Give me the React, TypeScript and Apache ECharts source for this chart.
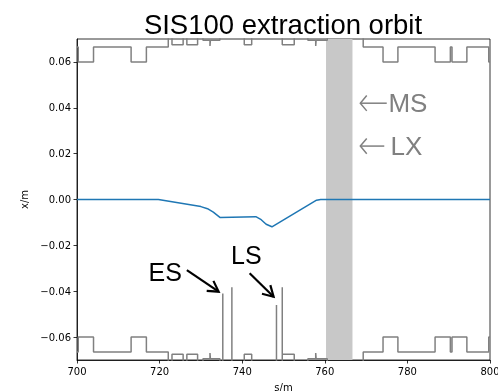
import React, { useEffect, useRef } from "react";
import * as echarts from "echarts";

// Beam orbit (blue)
const orbitS = [700, 719.7, 730.0, 731.6, 733.0, 734.6, 743.3, 744.6, 745.8, 747.2, 758.0, 759.0, 800];
const orbitX = [0, 0, -0.0031, -0.0040, -0.0055, -0.0078, -0.0075, -0.0088, -0.0108, -0.0119, -0.0003, 0, 0];

// Aperture, bottom wall (incl. ES / LS septum blades)
const bottomS = [700, 700.3, 700.3, 704.0, 704.0, 713.1, 713.1, 716.8, 716.8, 722.1, 722.1, 723.0, 723.0, 725.7, 725.7, 726.6, 726.6, 729.2, 729.2, 730.5, 730.5, 732.2, 732.2, 732.3, 732.3, 734.6, 734.6, 735.3, 735.3, 735.3, 737.5, 737.5, 737.5, 740.5, 740.5, 742.3, 742.3, 748.3, 748.3, 748.3, 749.7, 749.7, 749.7, 752.6, 752.6, 755.9, 755.9, 757.8, 757.8, 757.9, 757.9, 760.6, 760.6, 769.3, 769.3, 774.1, 774.1, 777.7, 777.7, 786.7, 786.7, 790.4, 790.4, 790.8, 790.8, 794.4, 794.4, 799.7, 799.7, 800];
const bottomX = [-0.0665, -0.0665, -0.06, -0.06, -0.0665, -0.0665, -0.06, -0.06, -0.0665, -0.0665, -0.072, -0.072, -0.0675, -0.0675, -0.072, -0.072, -0.0675, -0.0675, -0.072, -0.072, -0.0695, -0.0695, -0.067, -0.067, -0.0695, -0.0695, -0.072, -0.072, -0.041, -0.072, -0.072, -0.0383, -0.072, -0.072, -0.0675, -0.0675, -0.072, -0.072, -0.046, -0.072, -0.072, -0.0383, -0.0675, -0.0675, -0.072, -0.072, -0.0695, -0.0695, -0.067, -0.067, -0.0695, -0.0695, -0.072, -0.072, -0.0665, -0.0665, -0.06, -0.06, -0.0665, -0.0665, -0.06, -0.06, -0.0665, -0.0665, -0.06, -0.06, -0.0665, -0.0665, -0.06, -0.06];

// Aperture, top wall
const topS = [700, 700.3, 700.3, 704.0, 704.0, 713.1, 713.1, 716.8, 716.8, 722.1, 722.1, 723.0, 723.0, 725.7, 725.7, 726.6, 726.6, 729.2, 729.2, 730.5, 730.5, 732.2, 732.2, 732.3, 732.3, 734.6, 734.6, 740.5, 740.5, 742.3, 742.3, 749.7, 749.7, 752.6, 752.6, 755.9, 755.9, 757.8, 757.8, 757.9, 757.9, 760.6, 760.6, 769.3, 769.3, 774.1, 774.1, 777.7, 777.7, 786.7, 786.7, 790.4, 790.4, 790.8, 790.8, 794.4, 794.4, 799.7, 799.7, 800];
const topX = [0.0665, 0.0665, 0.06, 0.06, 0.0665, 0.0665, 0.06, 0.06, 0.0665, 0.0665, 0.072, 0.072, 0.0675, 0.0675, 0.072, 0.072, 0.0675, 0.0675, 0.072, 0.072, 0.0695, 0.0695, 0.067, 0.067, 0.0695, 0.0695, 0.072, 0.072, 0.0675, 0.0675, 0.072, 0.072, 0.0675, 0.0675, 0.072, 0.072, 0.0695, 0.0695, 0.067, 0.067, 0.0695, 0.0695, 0.072, 0.072, 0.0665, 0.0665, 0.06, 0.06, 0.0665, 0.0665, 0.06, 0.06, 0.0665, 0.0665, 0.06, 0.06, 0.0665, 0.0665, 0.06, 0.06];

// Shaded element (s range)
const bandS = [760.3, 766.7];

// Axis ticks
const xTicks = [700, 720, 740, 760, 780, 800];
const yTicks = [-0.06, -0.04, -0.02, 0, 0.02, 0.04, 0.06];

// Annotations (data coordinates)
const blackLabels = ["ES", "LS"];
const blackLabelPos = [[725.4, -0.0316], [737.3, -0.0242]];
const blackLabelAlign = ["right", "left"];
const blackArrows = [[726.6, -0.0308, 734.3, -0.0402], [741.8, -0.0322, 747.6, -0.0424]];
const grayLabels = ["MS", "LX"];
const grayLabelPos = [[775.4, 0.042], [775.9, 0.0233]];
const grayArrows = [[775.0, 0.042, 768.6, 0.042], [774.4, 0.0233, 768.6, 0.0233]];

const zip = (a: number[], b: number[]) => a.map((v, i) => [v, b[i]]);
const fmtY = (v: number) => (Math.abs(v) < 1e-9 ? 0 : v).toFixed(2).replace("-", "\u2212");

function arrowItem(color: string, width: number, headLen: number, headAngle: number) {
  return (params: any, api: any) => {
    const p0 = api.coord([api.value(0), api.value(1)]);
    const p1 = api.coord([api.value(2), api.value(3)]);
    const ang = Math.atan2(p1[1] - p0[1], p1[0] - p0[0]);
    const a1 = ang + Math.PI - headAngle;
    const a2 = ang + Math.PI + headAngle;
    const h1 = [p1[0] + headLen * Math.cos(a1), p1[1] + headLen * Math.sin(a1)];
    const h2 = [p1[0] + headLen * Math.cos(a2), p1[1] + headLen * Math.sin(a2)];
    return {
      type: "group",
      children: [
        { type: "line", shape: { x1: p0[0], y1: p0[1], x2: p1[0], y2: p1[1] }, style: { stroke: color, lineWidth: width } },
        { type: "polyline", shape: { points: [h1, p1, h2] }, style: { stroke: color, lineWidth: width, fill: null, lineJoin: "miter" } },
      ],
    };
  };
}

function labelItem(labels: string[], aligns: string[] | null, color: string, size: number) {
  return (params: any, api: any) => {
    const p = api.coord([api.value(0), api.value(1)]);
    return {
      type: "text",
      x: p[0],
      y: p[1],
      style: {
        text: labels[params.dataIndex],
        fill: color,
        fontSize: size,
        fontFamily: "Liberation Sans, Arial, sans-serif",
        align: aligns ? aligns[params.dataIndex] : "left",
        verticalAlign: "middle",
      },
    };
  };
}

export default function App() {
  const ref = useRef<HTMLDivElement>(null);
  useEffect(() => {
    if (!ref.current) return;
    const chart = echarts.init(ref.current, null, { renderer: "svg" });
    const tickFont = { fontFamily: "DejaVu Sans", fontSize: 10, color: "#000" };
    chart.setOption({
      animation: false,
      title: {
        text: "SIS100 extraction orbit",
        left: 278,
        textAlign: "center",
        top: 5,
        textStyle: { fontFamily: "Liberation Sans, Arial, sans-serif", fontSize: 27.5, fontWeight: "normal", color: "#000" },
      },
      grid: {
        left: 77,
        right: 8,
        top: 39,
        bottom: 31,
        show: true,
        borderColor: "#000",
        borderWidth: 0.8,
        containLabel: false,
        outerBoundsMode: "none",
      },
      xAxis: {
        type: "value",
        min: 700,
        max: 800,
        interval: 20,
        name: "s/m",
        nameLocation: "middle",
        nameGap: 22,
        nameTextStyle: { fontFamily: "DejaVu Sans", fontSize: 10, color: "#000" },
        axisLine: { show: true, onZero: false, lineStyle: { color: "#000", width: 0.8 } },
        axisTick: { show: true, length: 3.5, lineStyle: { color: "#000", width: 0.8 } },
        axisLabel: { ...tickFont, margin: 6, customValues: xTicks },
        splitLine: { show: false },
      },
      yAxis: {
        type: "value",
        min: -0.07,
        max: 0.07,
        name: "x/m",
        nameLocation: "middle",
        nameGap: 48,
        nameRotate: 90,
        nameTextStyle: { fontFamily: "DejaVu Sans", fontSize: 10, color: "#000" },
        axisLine: { show: true, onZero: false, lineStyle: { color: "#000", width: 0.8 } },
        axisTick: { show: true, length: 3.5, lineStyle: { color: "#000", width: 0.8 }, customValues: yTicks },
        axisLabel: { ...tickFont, margin: 6, customValues: yTicks, formatter: fmtY },
        splitLine: { show: false },
      },
      series: [
        {
          type: "line",
          z: 1,
          data: [],
          markArea: {
            silent: true,
            itemStyle: { color: "#c8c8c8" },
            data: [[{ xAxis: bandS[0] }, { xAxis: bandS[1] }]],
          },
        },
        {
          type: "line",
          z: 2,
          data: zip(topS, topX),
          showSymbol: false,
          symbol: "none",
          clip: true,
          lineStyle: { color: "#808080", width: 1.5 },
        },
        {
          type: "line",
          z: 2,
          data: zip(bottomS, bottomX),
          showSymbol: false,
          symbol: "none",
          clip: true,
          lineStyle: { color: "#808080", width: 1.5 },
        },
        {
          type: "line",
          z: 3,
          data: zip(orbitS, orbitX),
          showSymbol: false,
          symbol: "none",
          lineStyle: { color: "#1f77b4", width: 1.5 },
        },
        {
          type: "custom",
          z: 4,
          renderItem: arrowItem("#000", 2.2, 12, Math.PI / 6),
          encode: { x: [0, 2], y: [1, 3] },
          data: blackArrows,
        },
        {
          type: "custom",
          z: 4,
          renderItem: arrowItem("#808080", 1.5, 10, (50 * Math.PI) / 180),
          encode: { x: [0, 2], y: [1, 3] },
          data: grayArrows,
        },
        {
          type: "custom",
          z: 4,
          renderItem: labelItem(blackLabels, blackLabelAlign, "#000", 25),
          encode: { x: 0, y: 1 },
          data: blackLabelPos,
        },
        {
          type: "custom",
          z: 4,
          renderItem: labelItem(grayLabels, null, "#808080", 26),
          encode: { x: 0, y: 1 },
          data: grayLabelPos,
        },
      ],
    });
    return () => chart.dispose();
  }, []);
  return <div ref={ref} style={{ position: "fixed", left: 0, top: 0, width: 498, height: 391 }} />;
}
